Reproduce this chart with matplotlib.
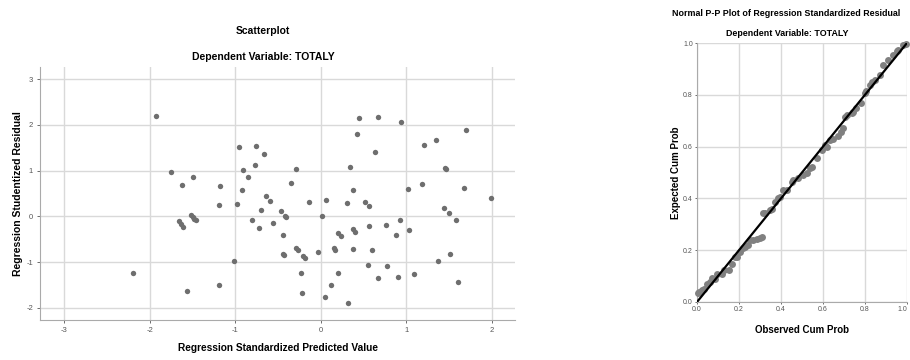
import matplotlib.pyplot as plt
from matplotlib import font_manager

# scatter: standardized predicted value vs studentized residual
pred_x = [-2.19, -1.924, -1.752, -1.624, -1.495, -1.659, -1.636, -1.608,
          -1.511, -1.492, -1.476, -1.46, -1.192, -1.176, -1.192, -1.565,
          -1.013, -0.978, -0.95, -0.751, -0.662, -0.911, -0.849, -0.763,
          -0.919, -0.80, -0.72, -0.697, -0.634, -0.588, -0.557, -0.467,
          -0.42, -0.40, -0.436, -0.436, -0.424, -0.35, -0.288, -0.284,
          -0.26, -0.206, -0.183, -0.23, -0.218, -0.136, -0.027, 0.02,
          0.066, 0.047, 0.125, 0.202, 0.152, 0.167, 0.199, 0.241,
          0.315, 0.304, 0.347, 0.378, 0.378, 0.405, 0.378, 0.428,
          0.452, 0.67, 0.631, 0.518, 0.561, 0.565, 0.604, 0.553,
          0.67, 0.775, 0.763, 0.876, 0.923, 0.903, 0.935, 1.02,
          1.032, 1.094, 1.184, 1.203, 1.351, 1.375, 1.449, 1.458,
          1.445, 1.503, 1.58, 1.515, 1.604, 1.67, 1.694, 1.994]
resid_y = [-1.25, 2.20, 0.96, 0.69, 0.86, -0.10, -0.17, -0.23,
           0.03, -0.02, -0.06, -0.09, 0.25, 0.66, -1.50, -1.63,
           -0.98, 0.27, 1.52, 1.55, 1.37, 1.01, 0.87, 1.13,
           0.57, -0.09, -0.26, 0.14, 0.44, 0.34, -0.15, 0.11,
           0.01, -0.02, -0.40, -0.83, -0.85, 0.74, 1.04, -0.70,
           -0.74, -0.86, -0.91, -1.24, -1.68, 0.31, -0.78, 0.0,
           0.35, -1.77, -1.51, -1.24, -0.70, -0.74, -0.36, -0.44,
           -1.90, 0.30, 1.08, 0.58, -0.28, -0.34, -0.72, 1.80,
           2.16, 2.17, 1.40, 0.31, 0.23, -0.22, -0.73, -1.07,
           -1.34, -1.08, -0.19, -0.41, -0.07, -1.33, 2.07, 0.60,
           -0.29, -1.27, 0.71, 1.56, 1.68, -0.97, 1.05, 1.04,
           0.19, 0.07, -0.08, -0.83, -1.44, 0.61, 1.88, 0.40]
scatter_xticks = [-3, -2, -1, 0, 1, 2]
scatter_yticks = [-2, -1, 0, 1, 2, 3]

# P-P plot: observed vs expected cumulative probability
obs_cum = [0.003, 0.008, 0.024, 0.031, 0.047, 0.063, 0.071, 0.087, 0.095,
           0.119, 0.127, 0.15, 0.166, 0.182, 0.19, 0.206, 0.221, 0.229,
           0.245, 0.253, 0.269, 0.285, 0.298, 0.309, 0.316, 0.324, 0.348,
           0.356, 0.372, 0.388, 0.396, 0.411, 0.427, 0.451, 0.459, 0.483,
           0.506, 0.522, 0.538, 0.546, 0.57, 0.593, 0.609, 0.617, 0.633,
           0.649, 0.672, 0.688, 0.693, 0.704, 0.712, 0.736, 0.744, 0.759,
           0.783, 0.799, 0.807, 0.823, 0.831, 0.847, 0.87, 0.886, 0.91,
           0.934, 0.95, 0.957, 0.981, 0.997]
exp_cum = [0.035, 0.039, 0.048, 0.052, 0.071, 0.077, 0.093, 0.09, 0.11,
           0.11, 0.123, 0.125, 0.148, 0.174, 0.174, 0.194, 0.207, 0.213,
           0.219, 0.239, 0.239, 0.245, 0.248, 0.25, 0.344, 0.342, 0.355,
           0.361, 0.387, 0.40, 0.406, 0.432, 0.432, 0.465, 0.471, 0.477,
           0.49, 0.50, 0.516, 0.522, 0.556, 0.587, 0.606, 0.60, 0.626,
           0.628, 0.639, 0.658, 0.671, 0.716, 0.722, 0.729, 0.735, 0.748,
           0.768, 0.806, 0.813, 0.839, 0.851, 0.858, 0.877, 0.916, 0.936,
           0.955, 0.968, 0.974, 0.992, 0.996]
pp_ticks = [0.0, 0.2, 0.4, 0.6, 0.8, 1.0]

names = {f.name for f in font_manager.fontManager.ttflist}
if 'Liberation Sans Narrow' in names:
    plt.rcParams['font.family'] = ['Liberation Sans Narrow', 'Liberation Sans', 'DejaVu Sans']
else:
    plt.rcParams['font.family'] = ['Liberation Sans', 'DejaVu Sans']

dot_color = '#6e6e6e'
grid_color = '#d9d9d9'
tick_color = '#555555'

fig = plt.figure(figsize=(9.1, 3.6), dpi=100)

# left panel
ax = fig.add_axes([40 / 910, 40 / 360, 475 / 910, 253 / 360])
ax.scatter(pred_x, resid_y, s=15, color=dot_color, linewidths=0, zorder=3)
ax.set_xlim(-3.28, 2.27)
ax.set_ylim(-2.27, 3.27)
ax.set_xticks(scatter_xticks)
ax.set_yticks(scatter_yticks)
ax.set_xticklabels([str(t) for t in scatter_xticks])
ax.set_yticklabels([str(t) for t in scatter_yticks])
ax.grid(True, color=grid_color, linewidth=1)
for side in ['top', 'right']:
    ax.spines[side].set_visible(False)
for side in ['left', 'bottom']:
    ax.spines[side].set_color('#aaaaaa')
ax.tick_params(labelsize=5.5, colors=tick_color, length=2, width=0.6, pad=3)
fig.text(263 / 910, 1 - 31 / 360, 'Scatterplot', ha='center', va='center',
         fontsize=7.5, fontweight='bold')
fig.text(263 / 910, 1 - 57 / 360, 'Dependent Variable: TOTALY', ha='center',
         va='center', fontsize=7.5, fontweight='bold')
fig.text(277.5 / 910, 1 - 348 / 360, 'Regression Standardized Predicted Value',
         ha='center', va='center', fontsize=7.3, fontweight='bold')
fig.text(18 / 910, 1 - 193.5 / 360, 'Regression Studentized Residual',
         ha='center', va='center', rotation=90, fontsize=7.5, fontweight='bold')

# right panel
ax2 = fig.add_axes([697 / 910, 58 / 360, 210 / 910, 259 / 360])
ax2.plot(obs_cum, exp_cum, 'o', markersize=5, color='#808080',
         markeredgewidth=0, zorder=3, clip_on=False)
ax2.plot([0, 1], [0, 1], color='black', linewidth=1.6, zorder=4)
ax2.set_xlim(0, 1)
ax2.set_ylim(0, 1)
ax2.set_xticks(pp_ticks)
ax2.set_yticks(pp_ticks)
ax2.set_xticklabels(['%.1f' % t for t in pp_ticks])
ax2.set_yticklabels(['%.1f' % t for t in pp_ticks])
ax2.get_xticklabels()[-1].set_horizontalalignment('right')
ax2.grid(True, color=grid_color, linewidth=1)
for side in ['top', 'right']:
    ax2.spines[side].set_visible(False)
for side in ['left', 'bottom']:
    ax2.spines[side].set_color('#aaaaaa')
ax2.tick_params(labelsize=5, colors=tick_color, length=1.5, width=0.6, pad=1.5)
fig.text(786 / 910, 1 - 13 / 360, 'Normal P-P Plot of Regression Standardized Residual',
         ha='center', va='center', fontsize=6.4, fontweight='bold')
fig.text(787 / 910, 1 - 33 / 360, 'Dependent Variable: TOTALY', ha='center',
         va='center', fontsize=6.4, fontweight='bold')
fig.text(802 / 910, 1 - 330 / 360, 'Observed Cum Prob', ha='center',
         va='center', fontsize=7, fontweight='bold')
fig.text(676 / 910, 1 - 172.5 / 360, 'Expected Cum Prob', ha='center',
         va='center', rotation=90, fontsize=7, fontweight='bold')

plt.savefig('out.png', dpi=100)
